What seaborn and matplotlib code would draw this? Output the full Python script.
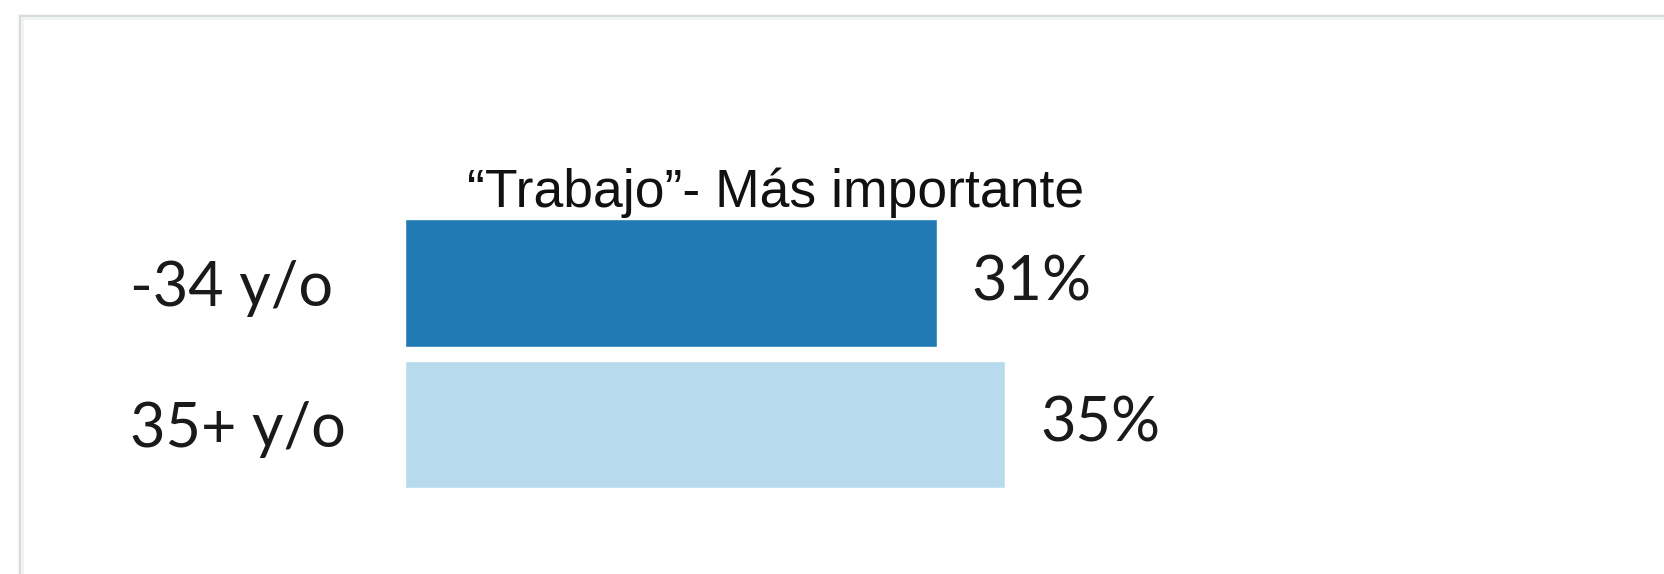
import matplotlib
matplotlib.use("Agg")
import matplotlib.pyplot as plt
import seaborn as sns
import pandas as pd
from matplotlib.patches import Rectangle

# Chart data
groups = ["-34 y/o", "35+ y/o"]
shares = [31, 35]
bar_colors = ["#217ab3", "#b7dbec"]
title = "\u201cTrabajo\u201d- Más importante"

sns.set_theme(style="white")
plt.rcParams["font.family"] = ["Lato", "DejaVu Sans"]

W, H = 1665, 574
fig = plt.figure(figsize=(W / 100, H / 100), dpi=100)
fig.patch.set_facecolor("white")

# Panel frame: thin gray edge along the top and left
fig.add_artist(Rectangle((21 / W, -0.05), 1.1, (H - 17) / H + 0.05,
                         transform=fig.transFigure, facecolor="none",
                         edgecolor="#f0f3f3", linewidth=4, zorder=0))
fig.add_artist(Rectangle((20 / W, -0.05), 1.1, (H - 16) / H + 0.05,
                         transform=fig.transFigure, facecolor="none",
                         edgecolor="#d6dada", linewidth=1.3, zorder=1))

ax = fig.add_axes([404.6 / W, 1 - 494.9 / H, 1029.6 / W, 282.5 / H])
df = pd.DataFrame({"group": groups, "share": shares})
sns.barplot(data=df, x="share", y="group", hue="group", palette=bar_colors,
            order=groups, hue_order=groups, width=0.9, legend=False,
            saturation=1, ax=ax)

ax.set_xlim(0, 60)
ax.set_ylim(1.5, -0.5)
ax.set_xlabel("")
ax.set_ylabel("")
ax.set_xticks([])
for side in ax.spines.values():
    side.set_visible(False)
ax.set_facecolor("none")

ax.tick_params(axis="y", length=0, pad=198, labelsize=44, labelcolor="#1a1a1a")
for lbl in ax.get_yticklabels():
    lbl.set_ha("left")

for cont in ax.containers:
    ax.bar_label(cont, labels=[f"{v:g}%" for v in cont.datavalues],
                 padding=25, fontsize=44, color="#1a1a1a")

fig.text(776 / W, 1 - 193 / H, title, ha="center", va="center",
         fontsize=38.5, family=["Liberation Sans", "DejaVu Sans"], color="#111111")

fig.savefig("out.png", dpi=100, facecolor="white")
